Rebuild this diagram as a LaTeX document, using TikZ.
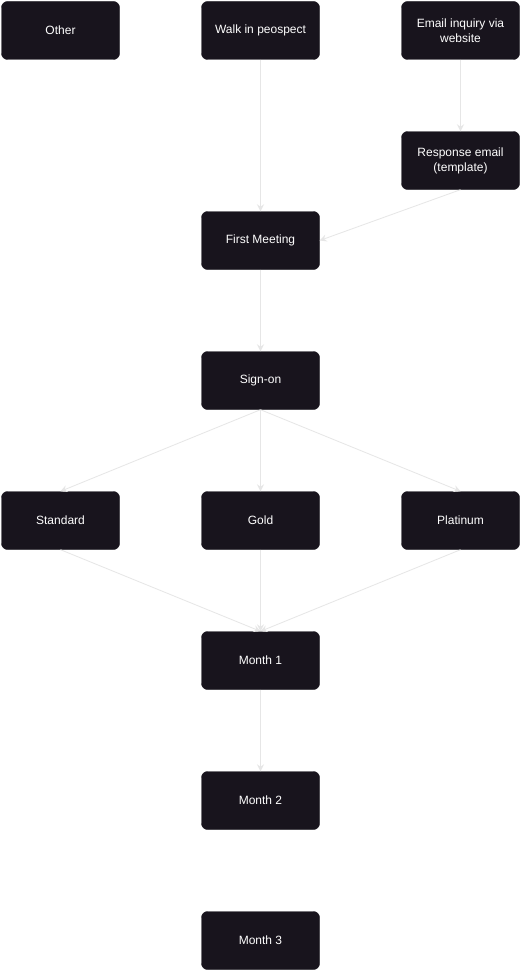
\documentclass[tikz,border=0pt]{standalone}
\usepackage{fontspec}
\setmainfont{Liberation Sans}
\usetikzlibrary{arrows.meta}
\definecolor{boxfill}{HTML}{18141D}
\definecolor{edgecol}{HTML}{E6E6E6}
\begin{document}
\begin{tikzpicture}[x=1pt,y=-1pt,
  box/.style={draw=boxfill,fill=boxfill,rounded corners=6pt,minimum width=118pt,minimum height=58pt,
    text=white,align=center,font=\fontsize{12}{15}\selectfont,inner sep=0pt},
  conn/.style={draw=edgecol,line width=0.8pt,-{Stealth[length=7pt,width=7pt,inset=2.5pt]}}]
\useasboundingbox (0,0) rectangle (521,971);
\fill[white] (0,0) rectangle (521,971);
\node[box] (other) at (60.5,30.5) {Other};
\node[box] (walk) at (260.5,30.5) {Walk in peospect};
\node[box] (email) at (460.5,30.5) {Email inquiry via\\website};
\node[box] (resp) at (460.5,160.5) {Response email\\(template)};
\node[box] (first) at (260.5,240.5) {First Meeting};
\node[box] (sign) at (260.5,380.5) {Sign-on};
\node[box] (std) at (60.5,520.5) {Standard};
\node[box] (gold) at (260.5,520.5) {Gold};
\node[box] (plat) at (460.5,520.5) {Platinum};
\node[box] (m1) at (260.5,660.5) {Month 1};
\node[box] (m2) at (260.5,800.5) {Month 2};
\node[box] (m3) at (260.5,940.5) {Month 3};
\draw[conn] (walk.south) -- (first.north);
\draw[conn] (email.south) -- (resp.north);
\draw[conn] (resp.south) -- (first.east);
\draw[conn] (first.south) -- (sign.north);
\draw[conn] (sign.south) -- (std.north);
\draw[conn] (sign.south) -- (gold.north);
\draw[conn] (sign.south) -- (plat.north);
\draw[conn] (std.south) -- (m1.north);
\draw[conn] (gold.south) -- (m1.north);
\draw[conn] (plat.south) -- (m1.north);
\draw[conn] (m1.south) -- (m2.north);
\end{tikzpicture}
\end{document}
